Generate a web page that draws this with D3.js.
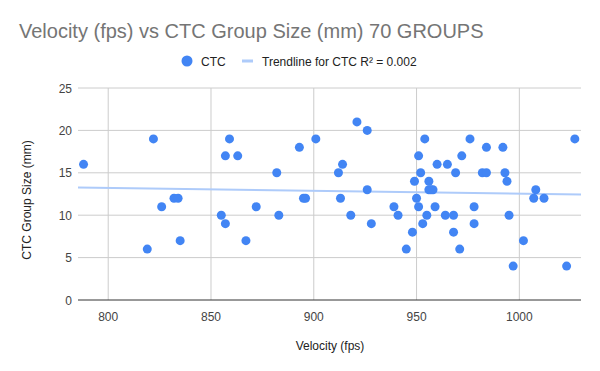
<!DOCTYPE html>
<html>
<head>
<meta charset="utf-8">
<script src="https://cdn.jsdelivr.net/npm/d3@7"></script>
<style>
  body { margin: 0; background: #fff; }
  text { font-family: Arial, "Liberation Sans", sans-serif; }
</style>
</head>
<body>
<div id="chart"></div>
<script>
// velocity (fps) and CTC group size (mm)
const velocity = [
  788, 819, 822, 826, 832, 834, 835, 855, 857, 857, 859, 863,
  867, 872, 882, 883, 893, 895, 896, 901, 912, 913, 914, 918, 921, 926, 926, 928, 939, 941,
  945, 948, 949, 950, 951, 951, 952, 953, 954, 955, 956, 956, 957, 958, 959, 960, 964, 965,
  968, 968, 969, 971, 972, 976, 978, 978, 982, 984, 984, 992, 993, 994, 995, 997,
  1002, 1007, 1008, 1012, 1023, 1027
];
const groupSize = [
  16, 6, 19, 11, 12, 12, 7, 10, 9, 17, 19, 17,
  7, 11, 15, 10, 18, 12, 12, 19, 15, 12, 16, 10, 21, 20, 13, 9, 11, 10,
  6, 8, 14, 12, 11, 17, 15, 9, 19, 10, 14, 13, 13, 13, 11, 16, 10, 16,
  10, 8, 15, 6, 17, 19, 11, 9, 15, 15, 18, 18, 15, 14, 10, 4,
  7, 12, 13, 12, 4, 19
];
const xTicks = [800, 850, 900, 950, 1000];
const yTicks = [0, 5, 10, 15, 20, 25];

const W = 600, H = 371;
const margin = { left: 78, top: 88, right: 19, bottom: 71 };

const svg = d3.select('#chart').append('svg')
  .attr('width', W)
  .attr('height', H);

const x = d3.scaleLinear().domain([785.3, 1030]).range([margin.left, W - margin.right]);
const y = d3.scaleLinear().domain([0, 25]).range([H - margin.bottom, margin.top]);

// title
svg.append('text')
  .attr('x', 19).attr('y', 38)
  .style('font-size', '20px')
  .style('fill', '#757575')
  .text('Velocity (fps) vs CTC Group Size (mm) 70 GROUPS');

// legend
const leg = svg.append('g');
leg.append('circle').attr('cx', 187).attr('cy', 61).attr('r', 5.5).style('fill', '#4285f4');
leg.append('text').attr('x', 201).attr('y', 65.5).style('font-size', '12px').style('fill', '#222').text('CTC');
leg.append('rect').attr('x', 242).attr('y', 59.5).attr('width', 11).attr('height', 3).style('fill', '#aecbfa');
leg.append('text').attr('x', 262).attr('y', 65.5).style('font-size', '12px').style('fill', '#222')
  .text('Trendline for CTC R² = 0.002');

// gridlines
svg.append('g').selectAll('line.h')
  .data(yTicks.filter(d => d > 0))
  .enter().append('line')
  .attr('x1', margin.left).attr('x2', W - margin.right)
  .attr('y1', d => y(d)).attr('y2', d => y(d))
  .style('stroke', '#cccccc');

svg.append('g').selectAll('line.v')
  .data(xTicks)
  .enter().append('line')
  .attr('x1', d => x(d)).attr('x2', d => x(d))
  .attr('y1', margin.top).attr('y2', H - margin.bottom)
  .style('stroke', '#cccccc');

// baseline
svg.append('line')
  .attr('x1', margin.left).attr('x2', W - margin.right)
  .attr('y1', y(0)).attr('y2', y(0))
  .style('stroke', '#333');

// tick labels
svg.append('g').selectAll('text')
  .data(yTicks)
  .enter().append('text')
  .attr('x', 72).attr('y', d => y(d) + 4.5)
  .attr('text-anchor', 'end')
  .style('font-size', '12px').style('fill', '#444')
  .text(d => d);

svg.append('g').selectAll('text')
  .data(xTicks)
  .enter().append('text')
  .attr('x', d => x(d)).attr('y', 321)
  .attr('text-anchor', 'middle')
  .style('font-size', '12px').style('fill', '#444')
  .text(d => d);

// axis titles
svg.append('text')
  .attr('x', 330).attr('y', 350)
  .attr('text-anchor', 'middle')
  .style('font-size', '12px').style('fill', '#222')
  .text('Velocity (fps)');

svg.append('text')
  .attr('transform', 'translate(31,200) rotate(-90)')
  .attr('text-anchor', 'middle')
  .style('font-size', '12px').style('fill', '#222')
  .text('CTC Group Size (mm)');

// linear trendline (least squares)
const mx = d3.mean(velocity), my = d3.mean(groupSize);
let sxy = 0, sxx = 0;
velocity.forEach((v, i) => {
  sxy += (v - mx) * (groupSize[i] - my);
  sxx += (v - mx) * (v - mx);
});
const slope = sxy / sxx, icpt = my - slope * mx;
const dom = x.domain();
svg.append('line')
  .attr('x1', x(dom[0])).attr('x2', x(dom[1]))
  .attr('y1', y(icpt + slope * dom[0])).attr('y2', y(icpt + slope * dom[1]))
  .style('stroke', '#aecbfa')
  .style('stroke-width', 2);

// points
svg.append('g').selectAll('circle')
  .data(velocity.map((v, i) => [v, groupSize[i]]))
  .enter().append('circle')
  .attr('cx', d => x(d[0]))
  .attr('cy', d => y(d[1]))
  .attr('r', 4.5)
  .style('fill', '#4285f4');
</script>
</body>
</html>
